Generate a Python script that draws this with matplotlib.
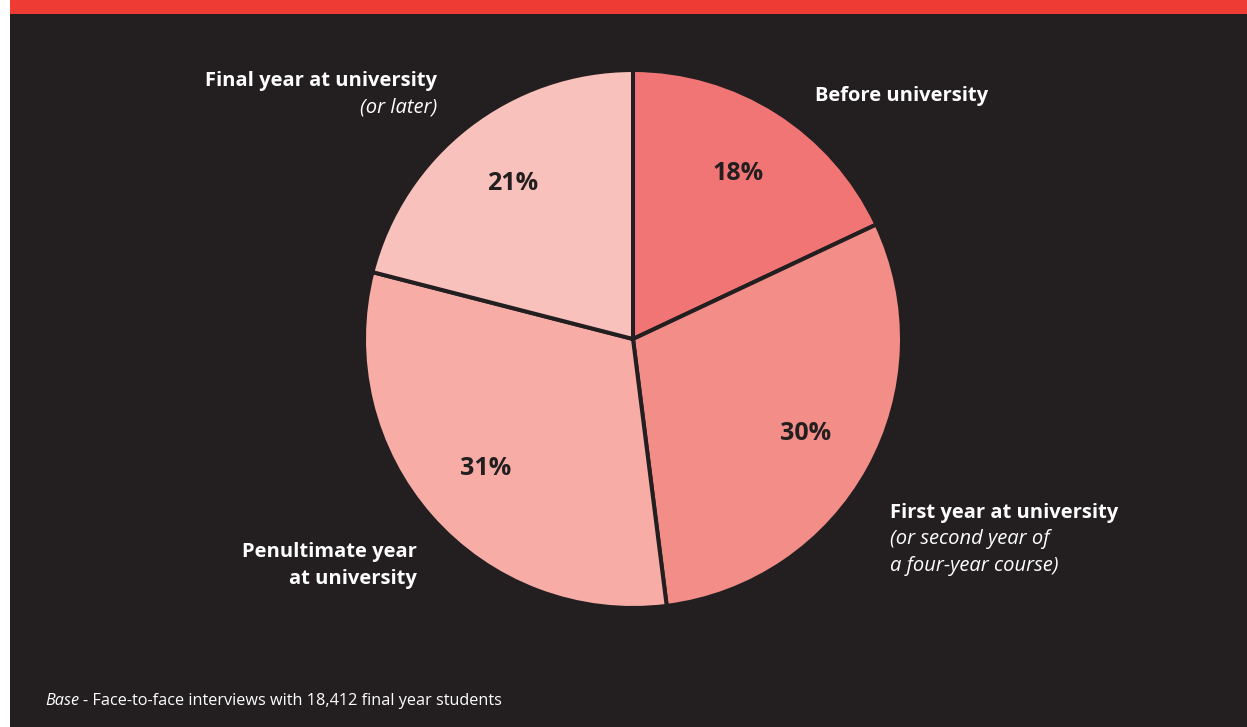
import matplotlib
matplotlib.use("Agg")
import matplotlib.pyplot as plt

# Share of final year students by when they started thinking about careers
categories = ["Before university", "First year at university",
              "Penultimate year at university", "Final year at university"]
shares = [18, 30, 31, 21]
colors = ["#f27575", "#f38d87", "#f8aca6", "#f9c1bb"]

BG = "#231f20"
BAND = "#ee3b33"
W, H = 1247, 727

fig = plt.figure(figsize=(W / 100, H / 100), dpi=100, facecolor="white")

# dark panel and red band across the top
panel = fig.add_axes([0, 0, 1, 1])
panel.set_xlim(0, W)
panel.set_ylim(H, 0)
panel.axis("off")
panel.add_patch(plt.Rectangle((10, 14), W - 10, H - 14, color=BG, lw=0))
panel.add_patch(plt.Rectangle((10, 0), W - 10, 14, color=BAND, lw=0))

ax = fig.add_axes([0, 0, 1, 1])
ax.set_xlim(0, W)
ax.set_ylim(0, H)
ax.set_aspect("equal")
ax.axis("off")

cx, cy, r = 633, H - 339, 269
wedges, texts, autotexts = ax.pie(
    shares, colors=colors, startangle=90, counterclock=False,
    center=(cx, cy), radius=r, frame=True,
    autopct="%d%%", pctdistance=0.73,
    wedgeprops=dict(edgecolor=BG, linewidth=2.9),
    textprops=dict(color=BG, fontsize=18, fontweight="bold", family="Open Sans"),
)
ax.set_xlim(0, W)
ax.set_ylim(0, H)
ax.axis("off")

bold = dict(color="white", fontsize=14.5, fontweight="bold", family="Open Sans", va="center")
ital = dict(color="white", fontsize=14.5, style="italic", family="Open Sans", va="center")

def ty(y):
    return H - y

ax.text(437, ty(81), "Final year at university", ha="right", **bold)
ax.text(437, ty(108), "(or later)", ha="right", **ital)

ax.text(815, ty(96), "Before university", ha="left", **bold)

ax.text(890, ty(513), "First year at university", ha="left", **bold)
ax.text(890, ty(539), "(or second year of", ha="left", **ital)
ax.text(890, ty(566), "a four-year course)", ha="left", **ital)

ax.text(417, ty(552), "Penultimate year", ha="right", **bold)
ax.text(417, ty(579), "at university", ha="right", **bold)

# footnote with italic lead-in
base = ax.text(45, ty(701), "Base", ha="left", va="center", color="white",
               fontsize=11.7, style="italic", family="Open Sans")
fig.canvas.draw()
bb = base.get_window_extent()
x_end = ax.transData.inverted().transform((bb.x1, bb.y0))[0]
ax.text(x_end + 4, ty(701), "- Face-to-face interviews with 18,412 final year students",
        ha="left", va="center", color="white", fontsize=11.7, family="Open Sans")

fig.savefig("out.png", dpi=100, facecolor="white")
